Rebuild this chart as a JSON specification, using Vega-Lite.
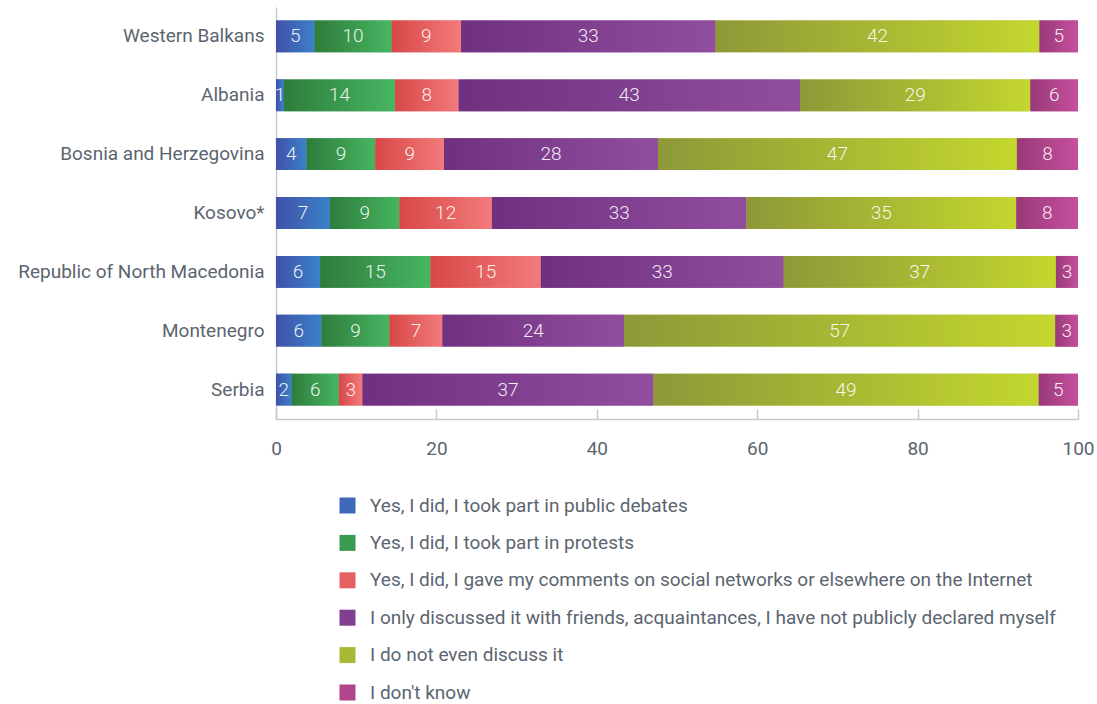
{
  "$schema": "https://vega.github.io/schema/vega-lite/v6.json",
  "autosize": {"type": "none"},
  "padding": {"left": 276, "top": 7, "right": 19, "bottom": 285},
  "width": 802,
  "height": 412,
  "config": {
    "font": "Roboto",
    "view": {"stroke": null}
  },
  "params": [
    {"name": "grads", "expr": "[{gradient: 'linear', x1: 0, y1: 0, x2: 1, y2: 0, stops: [{offset: 0, color: '#4150a8'}, {offset: 1, color: '#3a82c9'}]}, {gradient: 'linear', x1: 0, y1: 0, x2: 1, y2: 0, stops: [{offset: 0, color: '#2f7c3b'}, {offset: 1, color: '#46b662'}]}, {gradient: 'linear', x1: 0, y1: 0, x2: 1, y2: 0, stops: [{offset: 0, color: '#d84747'}, {offset: 1, color: '#f27b7b'}]}, {gradient: 'linear', x1: 0, y1: 0, x2: 1, y2: 0, stops: [{offset: 0, color: '#6f317f'}, {offset: 1, color: '#924e9e'}]}, {gradient: 'linear', x1: 0, y1: 0, x2: 1, y2: 0, stops: [{offset: 0, color: '#8e9839'}, {offset: 1, color: '#c3d72e'}]}, {gradient: 'linear', x1: 0, y1: 0, x2: 1, y2: 0, stops: [{offset: 0, color: '#993a77'}, {offset: 1, color: '#c64f9f'}]}]"}
  ],
  "data": {
    "values": [
      {"country": "Western Balkans", "answer": "Yes, I did, I took part in public debates", "value": 5},
      {"country": "Western Balkans", "answer": "Yes, I did, I took part in protests", "value": 10},
      {"country": "Western Balkans", "answer": "Yes, I did, I gave my comments on social networks or elsewhere on the Internet", "value": 9},
      {"country": "Western Balkans", "answer": "I only discussed it with friends, acquaintances, I have not publicly declared myself", "value": 33},
      {"country": "Western Balkans", "answer": "I do not even discuss it", "value": 42},
      {"country": "Western Balkans", "answer": "I don't know", "value": 5},
      {"country": "Albania", "answer": "Yes, I did, I took part in public debates", "value": 1},
      {"country": "Albania", "answer": "Yes, I did, I took part in protests", "value": 14},
      {"country": "Albania", "answer": "Yes, I did, I gave my comments on social networks or elsewhere on the Internet", "value": 8},
      {"country": "Albania", "answer": "I only discussed it with friends, acquaintances, I have not publicly declared myself", "value": 43},
      {"country": "Albania", "answer": "I do not even discuss it", "value": 29},
      {"country": "Albania", "answer": "I don't know", "value": 6},
      {"country": "Bosnia and Herzegovina", "answer": "Yes, I did, I took part in public debates", "value": 4},
      {"country": "Bosnia and Herzegovina", "answer": "Yes, I did, I took part in protests", "value": 9},
      {"country": "Bosnia and Herzegovina", "answer": "Yes, I did, I gave my comments on social networks or elsewhere on the Internet", "value": 9},
      {"country": "Bosnia and Herzegovina", "answer": "I only discussed it with friends, acquaintances, I have not publicly declared myself", "value": 28},
      {"country": "Bosnia and Herzegovina", "answer": "I do not even discuss it", "value": 47},
      {"country": "Bosnia and Herzegovina", "answer": "I don't know", "value": 8},
      {"country": "Kosovo*", "answer": "Yes, I did, I took part in public debates", "value": 7},
      {"country": "Kosovo*", "answer": "Yes, I did, I took part in protests", "value": 9},
      {"country": "Kosovo*", "answer": "Yes, I did, I gave my comments on social networks or elsewhere on the Internet", "value": 12},
      {"country": "Kosovo*", "answer": "I only discussed it with friends, acquaintances, I have not publicly declared myself", "value": 33},
      {"country": "Kosovo*", "answer": "I do not even discuss it", "value": 35},
      {"country": "Kosovo*", "answer": "I don't know", "value": 8},
      {"country": "Republic of North Macedonia", "answer": "Yes, I did, I took part in public debates", "value": 6},
      {"country": "Republic of North Macedonia", "answer": "Yes, I did, I took part in protests", "value": 15},
      {"country": "Republic of North Macedonia", "answer": "Yes, I did, I gave my comments on social networks or elsewhere on the Internet", "value": 15},
      {"country": "Republic of North Macedonia", "answer": "I only discussed it with friends, acquaintances, I have not publicly declared myself", "value": 33},
      {"country": "Republic of North Macedonia", "answer": "I do not even discuss it", "value": 37},
      {"country": "Republic of North Macedonia", "answer": "I don't know", "value": 3},
      {"country": "Montenegro", "answer": "Yes, I did, I took part in public debates", "value": 6},
      {"country": "Montenegro", "answer": "Yes, I did, I took part in protests", "value": 9},
      {"country": "Montenegro", "answer": "Yes, I did, I gave my comments on social networks or elsewhere on the Internet", "value": 7},
      {"country": "Montenegro", "answer": "I only discussed it with friends, acquaintances, I have not publicly declared myself", "value": 24},
      {"country": "Montenegro", "answer": "I do not even discuss it", "value": 57},
      {"country": "Montenegro", "answer": "I don't know", "value": 3},
      {"country": "Serbia", "answer": "Yes, I did, I took part in public debates", "value": 2},
      {"country": "Serbia", "answer": "Yes, I did, I took part in protests", "value": 6},
      {"country": "Serbia", "answer": "Yes, I did, I gave my comments on social networks or elsewhere on the Internet", "value": 3},
      {"country": "Serbia", "answer": "I only discussed it with friends, acquaintances, I have not publicly declared myself", "value": 37},
      {"country": "Serbia", "answer": "I do not even discuss it", "value": 49},
      {"country": "Serbia", "answer": "I don't know", "value": 5}
    ]
  },
  "transform": [
    {"stack": "value", "groupby": ["country"], "offset": "normalize", "as": ["x0", "x1"]},
    {"calculate": "(datum.x0 + datum.x1) / 2", "as": "xmid"}
  ],
  "encoding": {
    "y": {
      "field": "country",
      "type": "nominal",
      "sort": null,
      "scale": {"paddingInner": 0.46, "paddingOuter": 0.23},
      "axis": {
        "title": null,
        "ticks": false,
        "domainColor": "#c5cbd1",
        "domainWidth": 1.5,
        "labelFontSize": 19,
        "labelColor": "#5b6570",
        "labelPadding": 12,
        "labelLimit": 300,
        "labelFont": "Roboto"
      }
    }
  },
  "layer": [
    {
      "mark": {"type": "bar"},
      "encoding": {
        "x": {
          "field": "x0",
          "type": "quantitative",
          "scale": {"domain": [0, 1], "nice": false},
          "axis": {
            "title": null,
            "values": [0, 0.2, 0.4, 0.6, 0.8, 1],
            "labelExpr": "format(datum.value * 100, 'd')",
            "grid": false,
            "domainColor": "#c5cbd1",
            "domainWidth": 1.5,
            "tickColor": "#c5cbd1",
            "tickWidth": 1.5,
            "tickSize": -10,
            "labelFontSize": 19,
            "labelColor": "#5b6570",
            "labelPadding": 30,
            "labelFlush": false
          }
        },
        "x2": {"field": "x1"},
        "fill": {
          "field": "answer",
          "type": "nominal",
          "sort": [
            "Yes, I did, I took part in public debates",
            "Yes, I did, I took part in protests",
            "Yes, I did, I gave my comments on social networks or elsewhere on the Internet",
            "I only discussed it with friends, acquaintances, I have not publicly declared myself",
            "I do not even discuss it",
            "I don't know"
          ],
          "scale": {
            "domain": [
              "Yes, I did, I took part in public debates",
              "Yes, I did, I took part in protests",
              "Yes, I did, I gave my comments on social networks or elsewhere on the Internet",
              "I only discussed it with friends, acquaintances, I have not publicly declared myself",
              "I do not even discuss it",
              "I don't know"
            ],
            "range": ["#3d69b8", "#3a9a4e", "#e56060", "#80408f", "#a8b834", "#b0458b"]
          },
          "legend": {
            "title": null,
            "orient": "none",
            "legendX": 62,
            "legendY": 489,
            "direction": "vertical",
            "symbolType": "square",
            "symbolSize": 256,
            "symbolStrokeWidth": 0,
            "symbolOpacity": 1,
            "labelFontSize": 19,
            "labelColor": "#5b6570",
            "labelOffset": 13,
            "labelLimit": 900,
            "rowPadding": 17.4,
            "encode": {
              "symbols": {"update": {"fill": {"signal": "grads[datum.index]"}}}
            }
          }
        }
      }
    },
    {
      "mark": {
        "type": "bar",
        "fill": {"expr": "datum.answer === 'Yes, I did, I took part in public debates' ? grads[0] : datum.answer === 'Yes, I did, I took part in protests' ? grads[1] : indexof(datum.answer, 'comments') >= 0 ? grads[2] : indexof(datum.answer, 'friends') >= 0 ? grads[3] : datum.answer === 'I do not even discuss it' ? grads[4] : grads[5]"}
      },
      "encoding": {
        "x": {"field": "x0", "type": "quantitative"},
        "x2": {"field": "x1"}
      }
    },
    {
      "mark": {"type": "text", "fill": "#ffffff", "fillOpacity": 0.92, "fontSize": 19, "fontWeight": 300, "align": "center", "baseline": "middle"},
      "encoding": {
        "x": {"field": "xmid", "type": "quantitative"},
        "text": {"field": "value", "type": "quantitative"}
      }
    }
  ]
}
